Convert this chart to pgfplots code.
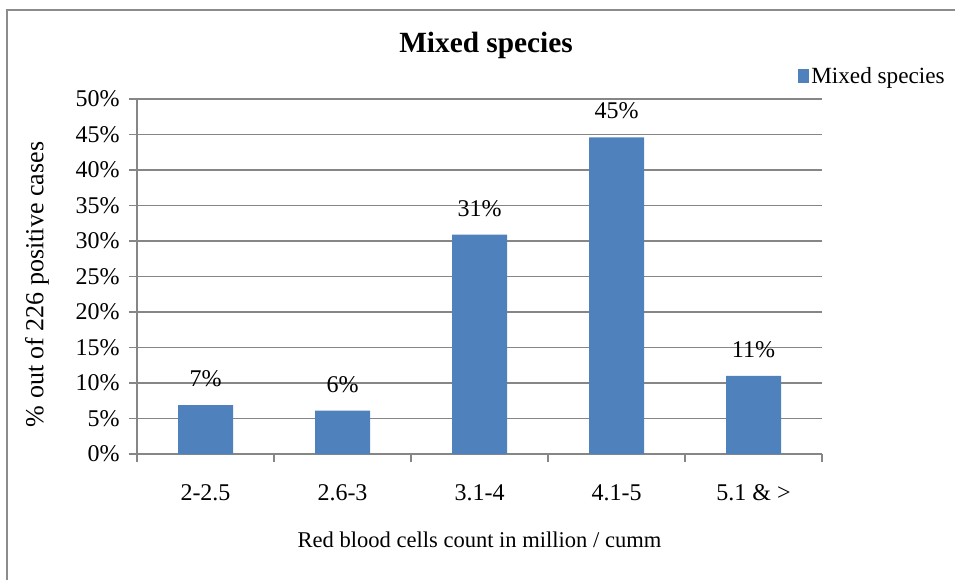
\documentclass[border=0pt]{standalone}
\usepackage{pgfplots}
\pgfplotsset{compat=1.18}
\usetikzlibrary{calc}
\usepackage{fontspec}
\setmainfont{Liberation Serif}
\definecolor{barblue}{HTML}{4F81BD}
\definecolor{gridgray}{HTML}{868686}
\definecolor{framegray}{HTML}{8C8C8C}
\newcommand\tickfont{\fontsize{18}{20}\selectfont}
\begin{document}
\begin{tikzpicture}
\useasboundingbox (0pt,0pt) rectangle (716.25pt,-435pt);
\draw[framegray, line width=1.5pt] (5.25pt,-445pt) -- (5.25pt,-7.5pt) -- (725pt,-7.5pt);
\begin{axis}[
  at={(102.75pt,-340.5pt)}, anchor=south west,
  scale only axis, width=513.75pt, height=266.25pt,
  ybar, bar width=41.25pt,
  xmin=-0.5, xmax=4.5, ymin=0, ymax=50,
  xtick={-0.5,0.5,1.5,2.5,3.5,4.5},
  x tick label as interval,
  xticklabels={2-2.5,2.6-3,3.1-4,4.1-5,5.1 \& >},
  ytick={0,5,...,50},
  yticklabel={\pgfmathprintnumber{\tick}\%},
  /pgf/number format/assume math mode=true,
  axis x line*=bottom, axis y line*=left,
  axis line style={-, gridgray, line width=0.9pt},
  tick align=outside, major tick length=6pt,
  tick style={gridgray, line width=0.9pt},
  ymajorgrids, grid style={gridgray, line width=0.9pt},
  tick label style={font=\tickfont},
  yticklabel style={anchor=east, inner sep=0pt, xshift=-6.75pt},
  xticklabel style={anchor=north, inner sep=0pt, yshift=-16.5pt},
  title={Mixed species},
  title style={at={(0.5,1)}, anchor=base, inner sep=0pt, yshift=29.25pt, xshift=4.9pt, font=\bfseries\fontsize{22}{26}\selectfont},
  xlabel={Red blood cells count in million / cumm},
  xlabel style={at={(0.5,0)}, anchor=north, inner sep=0pt, yshift=-58.5pt, font=\fontsize{16.9}{20}\selectfont},
  ylabel={\% out of 226 positive cases},
  ylabel style={at={($(axis description cs:0,0.5)+(-75pt,-6pt)$)}, anchor=center, inner sep=0pt, font=\fontsize{19.5}{22}\selectfont},
  nodes near coords={\pgfmathprintnumber[fixed,precision=0]{\pgfplotspointmeta}\%},
  every node near coord/.append style={font=\tickfont, inner sep=0pt, anchor=south, yshift=13.5pt, black},
  legend style={at={(1,1)}, anchor=west, xshift=-18pt, yshift=17.25pt, draw=none, fill=none, inner sep=0pt, font=\fontsize{17.4}{20}\selectfont, nodes={inner sep=1.5pt}},
  legend cell align=left,
  legend image code/.code={\fill[barblue] (0pt,-4.9pt) rectangle (8.25pt,4.9pt);},
]
\addplot[fill=barblue, draw=none] coordinates {(0,6.9) (1,6.1) (2,30.9) (3,44.6) (4,11.0)};
\addlegendentry{Mixed species}
\end{axis}
\end{tikzpicture}
\end{document}
